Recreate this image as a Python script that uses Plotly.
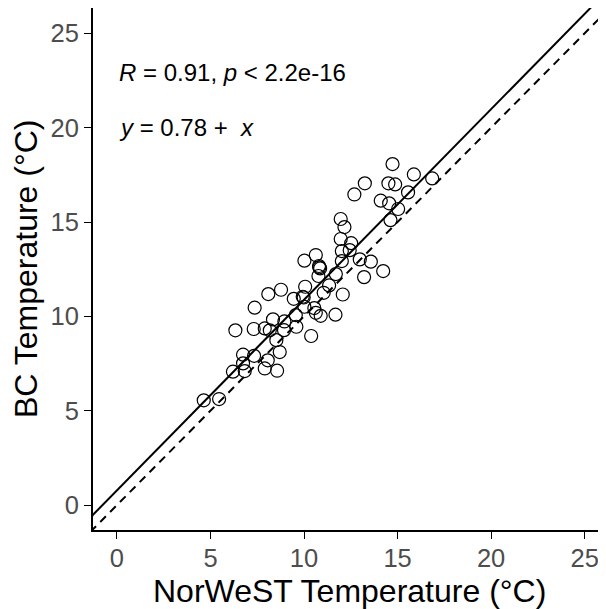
import plotly.graph_objects as go

# NorWeST (x) vs BC (y) stream temperature
norwest = [14.73, 15.87, 16.85, 13.25, 14.51, 14.87, 12.69, 15.56, 14.10, 14.55,
           15.03, 14.62, 11.96, 12.16, 11.96, 12.52, 12.02, 12.44, 10.63, 10.02,
           12.98, 13.57, 12.02, 10.80, 10.86, 10.77, 11.70, 14.23, 13.21, 11.34,
           11.05, 12.07, 8.09, 8.77, 10.06, 9.93, 9.45, 7.36, 10.02, 10.55,
           10.63, 10.89, 11.68, 9.56, 8.34, 8.95, 7.90, 8.17, 8.93, 9.59,
           6.33, 7.31, 8.52, 10.38, 6.74, 7.33, 8.70, 6.74, 8.06, 6.20,
           6.83, 7.90, 8.56, 4.64, 5.46, 10.82, 9.98]
bc = [18.07, 17.52, 17.31, 17.05, 17.05, 16.99, 16.46, 16.57, 16.13, 15.99,
      15.69, 15.10, 15.16, 14.73, 14.10, 13.88, 13.46, 13.51, 13.25, 12.95,
      13.02, 12.90, 12.93, 12.67, 12.54, 12.14, 12.24, 12.40, 12.08, 11.64,
      11.25, 11.16, 11.18, 11.41, 11.57, 11.04, 10.93, 10.46, 10.51, 10.44,
      10.19, 10.03, 10.09, 10.07, 9.84, 9.73, 9.36, 9.26, 9.27, 9.45,
      9.26, 9.33, 8.74, 8.96, 7.97, 7.91, 8.11, 7.51, 7.67, 7.07,
      7.10, 7.24, 7.12, 5.55, 5.62, 12.60, 11.00]

intercept = 0.78
slope = 1.01
x_range = [-1.28, 26.14]
y_range = [-1.32, 26.34]
ticks = [0, 5, 10, 15, 20, 25]

line_x = [-3, 30]
fit_y = [intercept + slope * v for v in line_x]

font = "Liberation Sans, Arial, sans-serif"

fig = go.Figure()
fig.add_trace(go.Scatter(x=line_x, y=line_x, mode="lines",
                         line=dict(color="black", width=2, dash="8px,6px")))
fig.add_trace(go.Scatter(x=line_x, y=fit_y, mode="lines",
                         line=dict(color="black", width=2)))
fig.add_trace(go.Scatter(x=norwest, y=bc, mode="markers",
                         marker=dict(symbol="circle-open", size=13,
                                     color="black", line=dict(width=1.2))))

axis = dict(tickvals=ticks, ticks="outside", ticklen=7, tickwidth=1.2,
            tickcolor="black", showline=True, linecolor="black", linewidth=2,
            showgrid=False, zeroline=False, automargin=False,
            tickfont=dict(family=font, size=25.5, color="#4d4d4d"))

# page has an 8px body margin, so the figure is a bit smaller than the window
fig.update_layout(
    width=598, height=601,
    margin=dict(l=85, r=0, t=0, b=79),
    plot_bgcolor="white", paper_bgcolor="white",
    showlegend=False,
    xaxis=dict(range=x_range, ticklabelstandoff=-3, **axis),
    yaxis=dict(range=y_range, **axis),
)

# axis titles
fig.add_annotation(x=0.5, y=0, xref="paper", yref="paper", xanchor="center",
                   yanchor="middle", yshift=-61, showarrow=False,
                   text="NorWeST Temperature (°C)",
                   font=dict(family=font, size=32, color="black"))
fig.add_annotation(x=0, y=0.5, xref="paper", yref="paper", xanchor="center",
                   yanchor="middle", xshift=-67, textangle=-90, showarrow=False,
                   text="BC Temperature (°C)",
                   font=dict(family=font, size=32, color="black"))

fig.add_annotation(x=0, y=22.9, xref="x", yref="y", xanchor="left", yanchor="middle",
                   text="<i>R</i> = 0.91, <i>p</i> &lt; 2.2e-16", showarrow=False,
                   font=dict(family=font, size=24, color="black"))
fig.add_annotation(x=0, y=20.0, xref="x", yref="y", xanchor="left", yanchor="middle",
                   text="<i>y</i> = 0.78 +  <i>x</i>", showarrow=False,
                   font=dict(family=font, size=24, color="black"))

fig.write_html("out.html")
